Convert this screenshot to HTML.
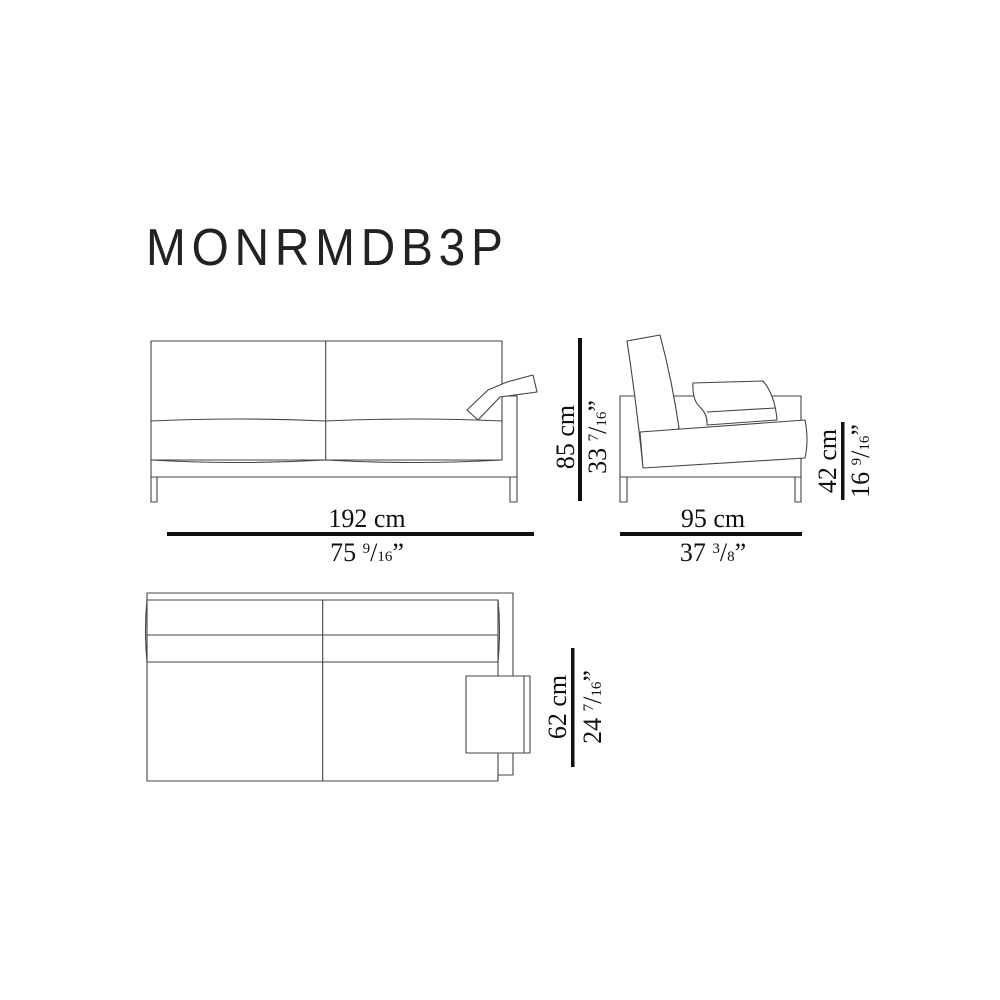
<!DOCTYPE html>
<html><head><meta charset="utf-8"><style>
html,body{margin:0;padding:0;background:#fff}
svg{display:block}
.l{fill:none;stroke:#444;stroke-width:1.1;stroke-linejoin:round}
.d{font-family:"Liberation Serif",serif;font-size:26px;fill:#111}
.f{font-size:15px}
</style></head><body>
<svg width="1000" height="1000" viewBox="0 0 1000 1000" xmlns="http://www.w3.org/2000/svg">
<text transform="translate(146 265) scale(0.92 1)" x="0" y="0" font-family="Liberation Sans, sans-serif" font-size="52" fill="#222" textLength="388" lengthAdjust="spacing">MONRMDB3P</text>

<!-- front view -->
<g class="l">
<rect x="151" y="341" width="351" height="119"/>
<line x1="325.7" y1="341" x2="325.7" y2="460"/>
<path d="M151 421 Q238 417 325.7 421 Q414 417 502 421"/>
<path d="M151 460 Q238 465 325.7 460 Q414 465 502 460"/>
<path d="M151 460 L151 477 L517 477 L517 396 L502 396"/>
<rect x="151" y="477" width="6" height="25"/>
<rect x="510" y="477" width="7" height="25"/>
<path d="M467 410 L478 420 L500 397 L537 392 L533 375 L507 382 L488 390 Z" fill="#fff"/>
</g>
<rect x="167" y="532" width="367" height="4" fill="#111"/>
<text class="d" x="367" y="527" text-anchor="middle">192 cm</text>
<text class="d" x="367" y="561" text-anchor="middle">75 <tspan class="f" dy="-8">9</tspan><tspan dy="8">/</tspan><tspan class="f">16</tspan>”</text>
<rect x="578" y="338" width="4" height="163" fill="#111"/>
<text class="d" transform="translate(574 437) rotate(-90)" text-anchor="middle">85 cm</text>
<text class="d" transform="translate(606 437) rotate(-90)" text-anchor="middle">33 <tspan class="f" dy="-8">7</tspan><tspan dy="8">/</tspan><tspan class="f">16</tspan>”</text>

<!-- side view -->
<g class="l">
<rect x="620" y="396" width="181" height="81"/>
<rect x="620" y="477" width="7" height="25"/>
<rect x="795" y="477" width="6" height="25"/>
<path d="M627 341 L660 335 Q672 380 679 428 L643 467 Q636 400 627 341 Z" fill="#fff"/>
<path d="M640 432 L805 420 Q809 440 805 458 L643 468 Z" fill="#fff"/>
<path d="M693 383 L763 381 Q775 395 777 420 L707 425 Q708 415 700 407 Q692 400 693 383 Z" fill="#fff"/>
<path d="M707 412 L775 408"/>
</g>
<rect x="620" y="532" width="182" height="4" fill="#111"/>
<text class="d" x="713" y="527" text-anchor="middle">95 cm</text>
<text class="d" x="713" y="561" text-anchor="middle">37 <tspan class="f" dy="-8">3</tspan><tspan dy="8">/</tspan><tspan class="f">8</tspan>”</text>
<rect x="841" y="422" width="3.5" height="78" fill="#111"/>
<text class="d" transform="translate(836 461) rotate(-90)" text-anchor="middle">42 cm</text>
<text class="d" transform="translate(869 461) rotate(-90)" text-anchor="middle">16 <tspan class="f" dy="-8">9</tspan><tspan dy="8">/</tspan><tspan class="f">16</tspan>”</text>

<!-- top view -->
<g class="l">
<path d="M147 600 L147 593 L513 593 L513 775 L498 775"/>
<rect x="147" y="600" width="351" height="181"/>
<path d="M147 600 Q144 630 147 662"/>
<path d="M498 600 Q501 630 498 662"/>
<path d="M147 635 L498 635"/>
<path d="M147 662 L498 662"/>
<line x1="322.7" y1="600" x2="322.7" y2="781"/>
<rect x="466" y="676" width="64" height="77" fill="#fff"/>
<line x1="524" y1="676" x2="524" y2="753"/>
</g>
<rect x="571" y="648" width="3.5" height="119" fill="#111"/>
<text class="d" transform="translate(566 707) rotate(-90)" text-anchor="middle">62 cm</text>
<text class="d" transform="translate(601 707) rotate(-90)" text-anchor="middle">24 <tspan class="f" dy="-8">7</tspan><tspan dy="8">/</tspan><tspan class="f">16</tspan>”</text>
</svg>
</body></html>
